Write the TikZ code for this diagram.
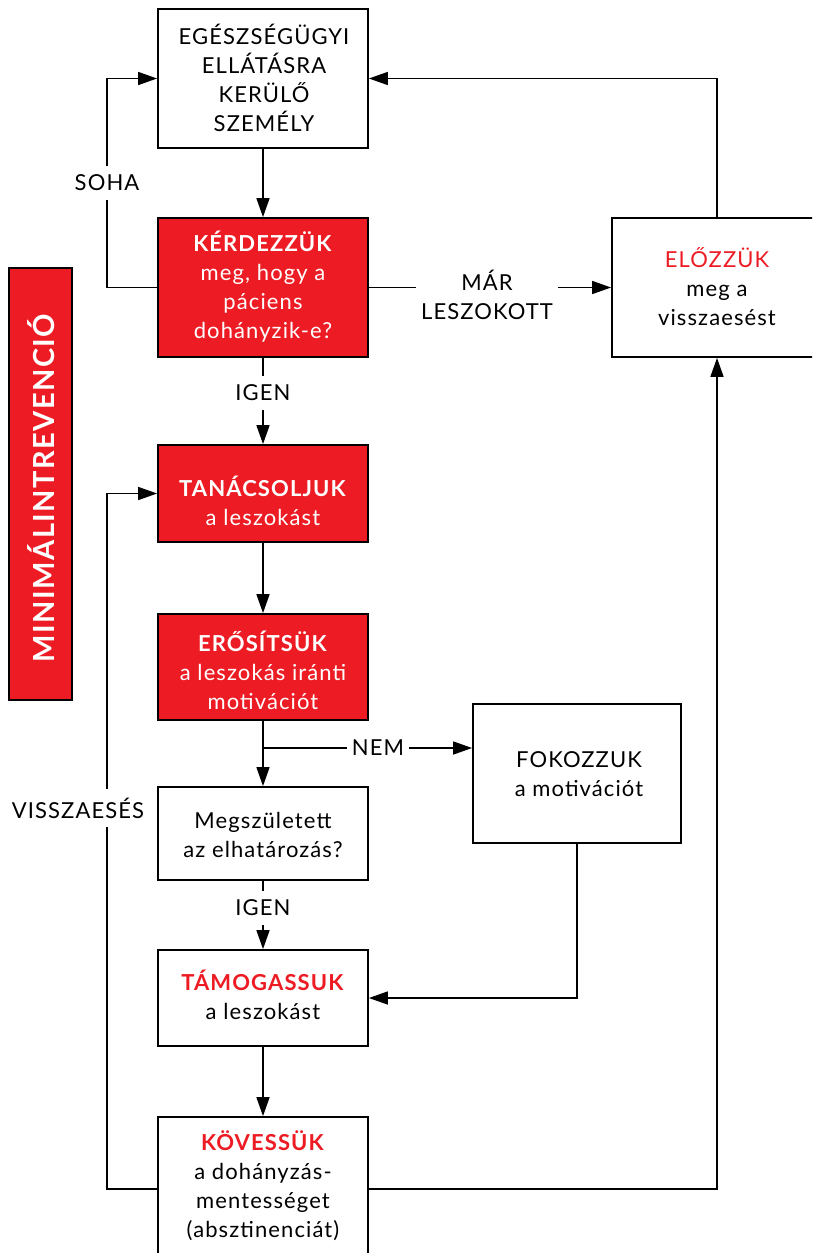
\documentclass[tikz,border=0pt]{standalone}
\usepackage{fontspec}
\setmainfont{Lato}[LetterSpace=5]
\usetikzlibrary{arrows.meta}
\definecolor{brandred}{RGB}{237,28,36}
\begin{document}
\begin{tikzpicture}[x=1pt,y=-1pt,
  txt/.style={font=\fontsize{22}{29}\selectfont, align=center, inner sep=0pt},
  lbl/.style={font=\fontsize{22}{29}\selectfont, align=center, fill=white, inner xsep=5pt, inner ysep=9pt},
  wbox/.style={draw=black, line width=1.8pt, fill=white, inner sep=0pt},
  rbox/.style={draw=black, line width=1.8pt, fill=brandred, inner sep=0pt},
  conn/.style={line width=1.6pt},
  arr/.style={conn, -{Triangle[length=19pt,width=13pt]}}]
\useasboundingbox (0,0) rectangle (812,1253);
\clip (0,0) rectangle (812,1253);
% helper coordinates
\coordinate (lx) at (107,0);
\coordinate (rx) at (717,0);
\coordinate (nemy) at (0,748);
\coordinate (loopy) at (0,1189);
% boxes
\node[wbox, minimum width=210pt, minimum height=139pt] (b1) at (263,78.5) {};
\node[rbox, minimum width=210pt, minimum height=139pt] (b2) at (263,287.5) {};
\node[wbox, minimum width=218pt, minimum height=139pt] (b3) at (721,287.5) {};
\node[rbox, minimum width=210pt, minimum height=97pt] (b4) at (263,493.5) {};
\node[rbox, minimum width=210pt, minimum height=106pt] (b5) at (263,667) {};
\node[wbox, minimum width=210pt, minimum height=93pt] (b6) at (263,833.5) {};
\node[wbox, minimum width=208pt, minimum height=139pt] (b7) at (577,773.5) {};
\node[wbox, minimum width=210pt, minimum height=96pt] (b8) at (263,998) {};
\node[wbox, minimum width=210pt, minimum height=183pt] (b9) at (263,1208.5) {};
\node[rbox, minimum width=63pt, minimum height=432pt] (side) at (40.5,484) {};
% texts
\node[txt] (t1) at (264,77.5) {EGÉSZSÉGÜGYI\\ELLÁTÁSRA\\KERÜLŐ\\SZEMÉLY};
\node[txt, text=white] (t2) at (263,286.5) {\textbf{KÉRDEZZÜK}\\meg, hogy a\\páciens\\dohányzik-e?};
\node[txt] (t3) at (717,287) {\textcolor{brandred}{ELŐZZÜK}\\meg a\\visszaesést};
\node[txt, text=white] (t4) at (263,501) {\textbf{TANÁCSOLJUK}\\a leszokást};
\node[txt, text=white] (t5) at (263,670) {\textbf{ERŐSÍTSÜK}\\a leszokás iránti\\motivációt};
\node[txt] (t6) at (263,834.5) {Megszületett\\az elhatározás?};
\node[txt] (t7) at (579,774.5) {FOKOZZUK\\a motivációt};
\node[txt] (t8) at (263,995) {\textcolor{brandred}{\textbf{TÁMOGASSUK}}\\a leszokást};
\node[txt] (t9) at (263,1186) {\textcolor{brandred}{\textbf{KÖVESSÜK}}\\a dohányzás-\\mentességet\\(absztinenciát)};
\node[font=\fontsize{29}{34}\selectfont\bfseries, text=white, rotate=90, inner sep=0pt] (tside) at (41,488) {MINIMÁLINTREVENCIÓ};
% connectors
\draw[arr] (b1.south) -- (b2.north);
\draw[arr] (b2.west) -- (b2.west -| lx) -- (b1.west -| lx) -- (b1.west);
\draw[arr] (b2.east) -- (b3.west);
\draw[arr] (b3.north -| rx) -- (b1.east -| rx) -- (b1.east);
\draw[arr] (b2.south) -- (b4.north);
\draw[arr] (b4.south) -- (b5.north);
\draw[arr] (b5.south) -- (b6.north);
\draw[arr] (b5.south |- nemy) -- (b7.west |- nemy);
\draw[arr] (b6.south) -- (b8.north);
\draw[arr] (b7.south) -- (b7.south |- b8.east) -- (b8.east);
\draw[arr] (b8.south) -- (b9.north);
\draw[arr] (b9.west |- loopy) -- (lx |- loopy) -- (lx |- b4.west) -- (b4.west);
\draw[arr] (b9.east |- loopy) -- (rx |- loopy) -- (b3.south -| rx);
% connector labels
\node[lbl] (lsoha) at (107,183) {SOHA};
\node[lbl] (lmar) at (487,295) {MÁR\\LESZOKOTT};
\node[lbl] (ligen1) at (263,393) {IGEN};
\node[lbl] (lnem) at (378,748) {NEM};
\node[lbl] (ligen2) at (263,908) {IGEN};
\node[lbl] (lvissza) at (78,808) {VISSZAESÉS};
\end{tikzpicture}
\end{document}
